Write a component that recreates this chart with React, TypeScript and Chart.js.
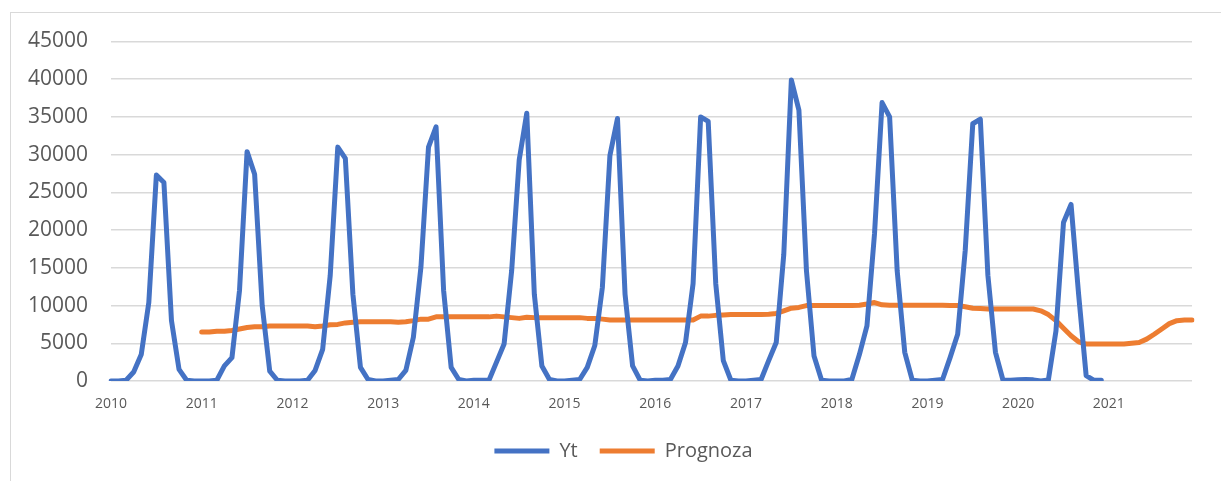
import React, { useEffect, useRef } from 'react';
import { Chart, registerables } from 'chart.js';

Chart.register(...registerables);

const years = ['2010', '2011', '2012', '2013', '2014', '2015', '2016', '2017', '2018', '2019', '2020', '2021'];
const monthsPerYear = 12;
const categories = years.flatMap((y) =>
  Array.from({ length: monthsPerYear }, (_, m) => `${y}-${String(m + 1).padStart(2, '0')}`)
);

// Yt: monthly values 2010-01 .. 2020-12
const yt2010 = [0, 0, 100, 1200, 3500, 10400, 27300, 26300, 8000, 1550, 100, 0];
const yt2011 = [0, 0, 100, 2000, 3100, 12000, 30400, 27400, 10000, 1300, 100, 0];
const yt2012 = [0, 0, 100, 1400, 4200, 14000, 31000, 29500, 11500, 1800, 200, 0];
const yt2013 = [0, 100, 200, 1400, 5800, 15100, 31000, 33700, 12000, 1800, 200, 0];
const yt2014 = [100, 100, 100, 2500, 4900, 14600, 29300, 35500, 11500, 2000, 200, 0];
const yt2015 = [0, 100, 200, 1800, 4700, 12400, 29900, 34800, 11500, 2000, 100, 0];
const yt2016 = [100, 100, 200, 2000, 5100, 12900, 35000, 34400, 12900, 2700, 100, 0];
const yt2017 = [0, 100, 200, 2700, 5100, 16800, 39900, 35900, 14600, 3300, 100, 0];
const yt2018 = [0, 0, 200, 3500, 7300, 19500, 36900, 35000, 14600, 3800, 100, 0];
const yt2019 = [0, 100, 200, 3100, 6200, 17300, 34100, 34700, 14000, 3800, 100, 100];
const yt2020 = [150, 200, 150, 0, 150, 6600, 21000, 23400, 11500, 700, 100, 100];

// Prognoza: monthly values 2011-01 .. 2021-12
const prog2011 = [6500, 6500, 6600, 6600, 6700, 6900, 7100, 7200, 7200, 7300, 7300, 7300];
const prog2012 = [7300, 7300, 7300, 7200, 7300, 7450, 7500, 7700, 7800, 7850, 7850, 7850];
const prog2013 = [7850, 7850, 7800, 7850, 8000, 8200, 8200, 8500, 8500, 8500, 8500, 8500];
const prog2014 = [8500, 8500, 8500, 8600, 8500, 8400, 8300, 8450, 8400, 8400, 8400, 8400];
const prog2015 = [8400, 8400, 8400, 8300, 8300, 8200, 8100, 8100, 8100, 8100, 8100, 8100];
const prog2016 = [8100, 8100, 8100, 8100, 8100, 8100, 8600, 8600, 8700, 8750, 8800, 8800];
const prog2017 = [8800, 8800, 8800, 8850, 8950, 9300, 9650, 9750, 10000, 10000, 10000, 10000];
const prog2018 = [10000, 10000, 10000, 10050, 10200, 10400, 10100, 10050, 10050, 10050, 10050, 10050];
const prog2019 = [10050, 10050, 10050, 10000, 10000, 9850, 9650, 9600, 9550, 9550, 9550, 9550];
const prog2020 = [9550, 9550, 9550, 9300, 8800, 8000, 7000, 6000, 5200, 4900, 4900, 4900];
const prog2021 = [4900, 4900, 4900, 5000, 5100, 5550, 6200, 6900, 7600, 8000, 8070, 8070];

const ytValues: (number | null)[] = [
  ...yt2010, ...yt2011, ...yt2012, ...yt2013, ...yt2014, ...yt2015,
  ...yt2016, ...yt2017, ...yt2018, ...yt2019, ...yt2020,
];
const prognozaValues: (number | null)[] = [
  ...Array(12).fill(null),
  ...prog2011, ...prog2012, ...prog2013, ...prog2014, ...prog2015, ...prog2016,
  ...prog2017, ...prog2018, ...prog2019, ...prog2020, ...prog2021,
];

const yMin = 0;
const yMax = 45000;
const yStep = 5000;

export default function App() {
  const ref = useRef<HTMLCanvasElement>(null);

  useEffect(() => {
    if (!ref.current) return;
    const chart = new Chart(ref.current, {
      type: 'line',
      data: {
        labels: categories,
        datasets: [
          {
            label: 'Yt',
            data: ytValues,
            borderColor: '#4472C4',
            backgroundColor: '#4472C4',
            borderWidth: 5,
            pointRadius: 0,
            tension: 0,
            borderCapStyle: 'round',
            borderJoinStyle: 'round',
          },
          {
            label: 'Prognoza',
            data: prognozaValues,
            borderColor: '#ED7D31',
            backgroundColor: '#ED7D31',
            borderWidth: 5,
            pointRadius: 0,
            tension: 0,
            borderCapStyle: 'round',
            borderJoinStyle: 'round',
          },
        ],
      },
      options: {
        animation: false,
        responsive: false,
        maintainAspectRatio: false,
        layout: { padding: { top: 28.5, right: 0, left: 15, bottom: 9 } },
        plugins: {
          tooltip: { enabled: false },
          legend: {
            position: 'bottom',
            labels: {
              usePointStyle: true,
              pointStyle: 'line',
              pointStyleWidth: 55,
              padding: 22,
              color: '#595959',
              font: { family: 'Open Sans', size: 20 },
            },
          },
        },
        scales: {
          x: {
            offset: false,
            grid: { display: false, drawTicks: false },
            border: { display: false },
            ticks: {
              autoSkip: false,
              maxRotation: 0,
              minRotation: 0,
              padding: 15,
              color: '#595959',
              font: { family: 'Open Sans', size: 14 },
              callback: (_v: any, i: number) => (i % monthsPerYear === 0 ? years[i / monthsPerYear] : ''),
            },
            afterFit: (s: any) => {
              s.height = 38;
            },
          },
          y: {
            min: yMin,
            max: yMax,
            ticks: {
              stepSize: yStep,
              padding: 23,
              color: '#595959',
              font: { family: 'Open Sans', size: 21 },
              callback: (v: any) => String(v),
            },
            grid: { color: '#d9d9d9', lineWidth: 1.5, drawTicks: false },
            border: { display: false },
            afterFit: (s: any) => {
              s.width = 85;
              s.paddingTop = 12;
              s.paddingBottom = 12;
            },
          },
          yRightSpace: {
            position: 'right',
            display: true,
            grid: { display: false, drawTicks: false },
            border: { display: false },
            ticks: { display: false },
            afterFit: (s: any) => {
              s.width = 29;
              s.paddingTop = 0;
              s.paddingBottom = 0;
            },
          },
        },
      },
    });
    return () => chart.destroy();
  }, []);

  return (
    <div
      style={{
        position: 'absolute',
        left: 10,
        top: 12,
        width: 1211,
        height: 469,
        borderTop: '1.5px solid #d9d9d9',
        borderLeft: '1.5px solid #d9d9d9',
      }}
    >
      <canvas ref={ref} width={1210} height={467} style={{ display: 'block', width: 1210, height: 467 }} />
    </div>
  );
}
